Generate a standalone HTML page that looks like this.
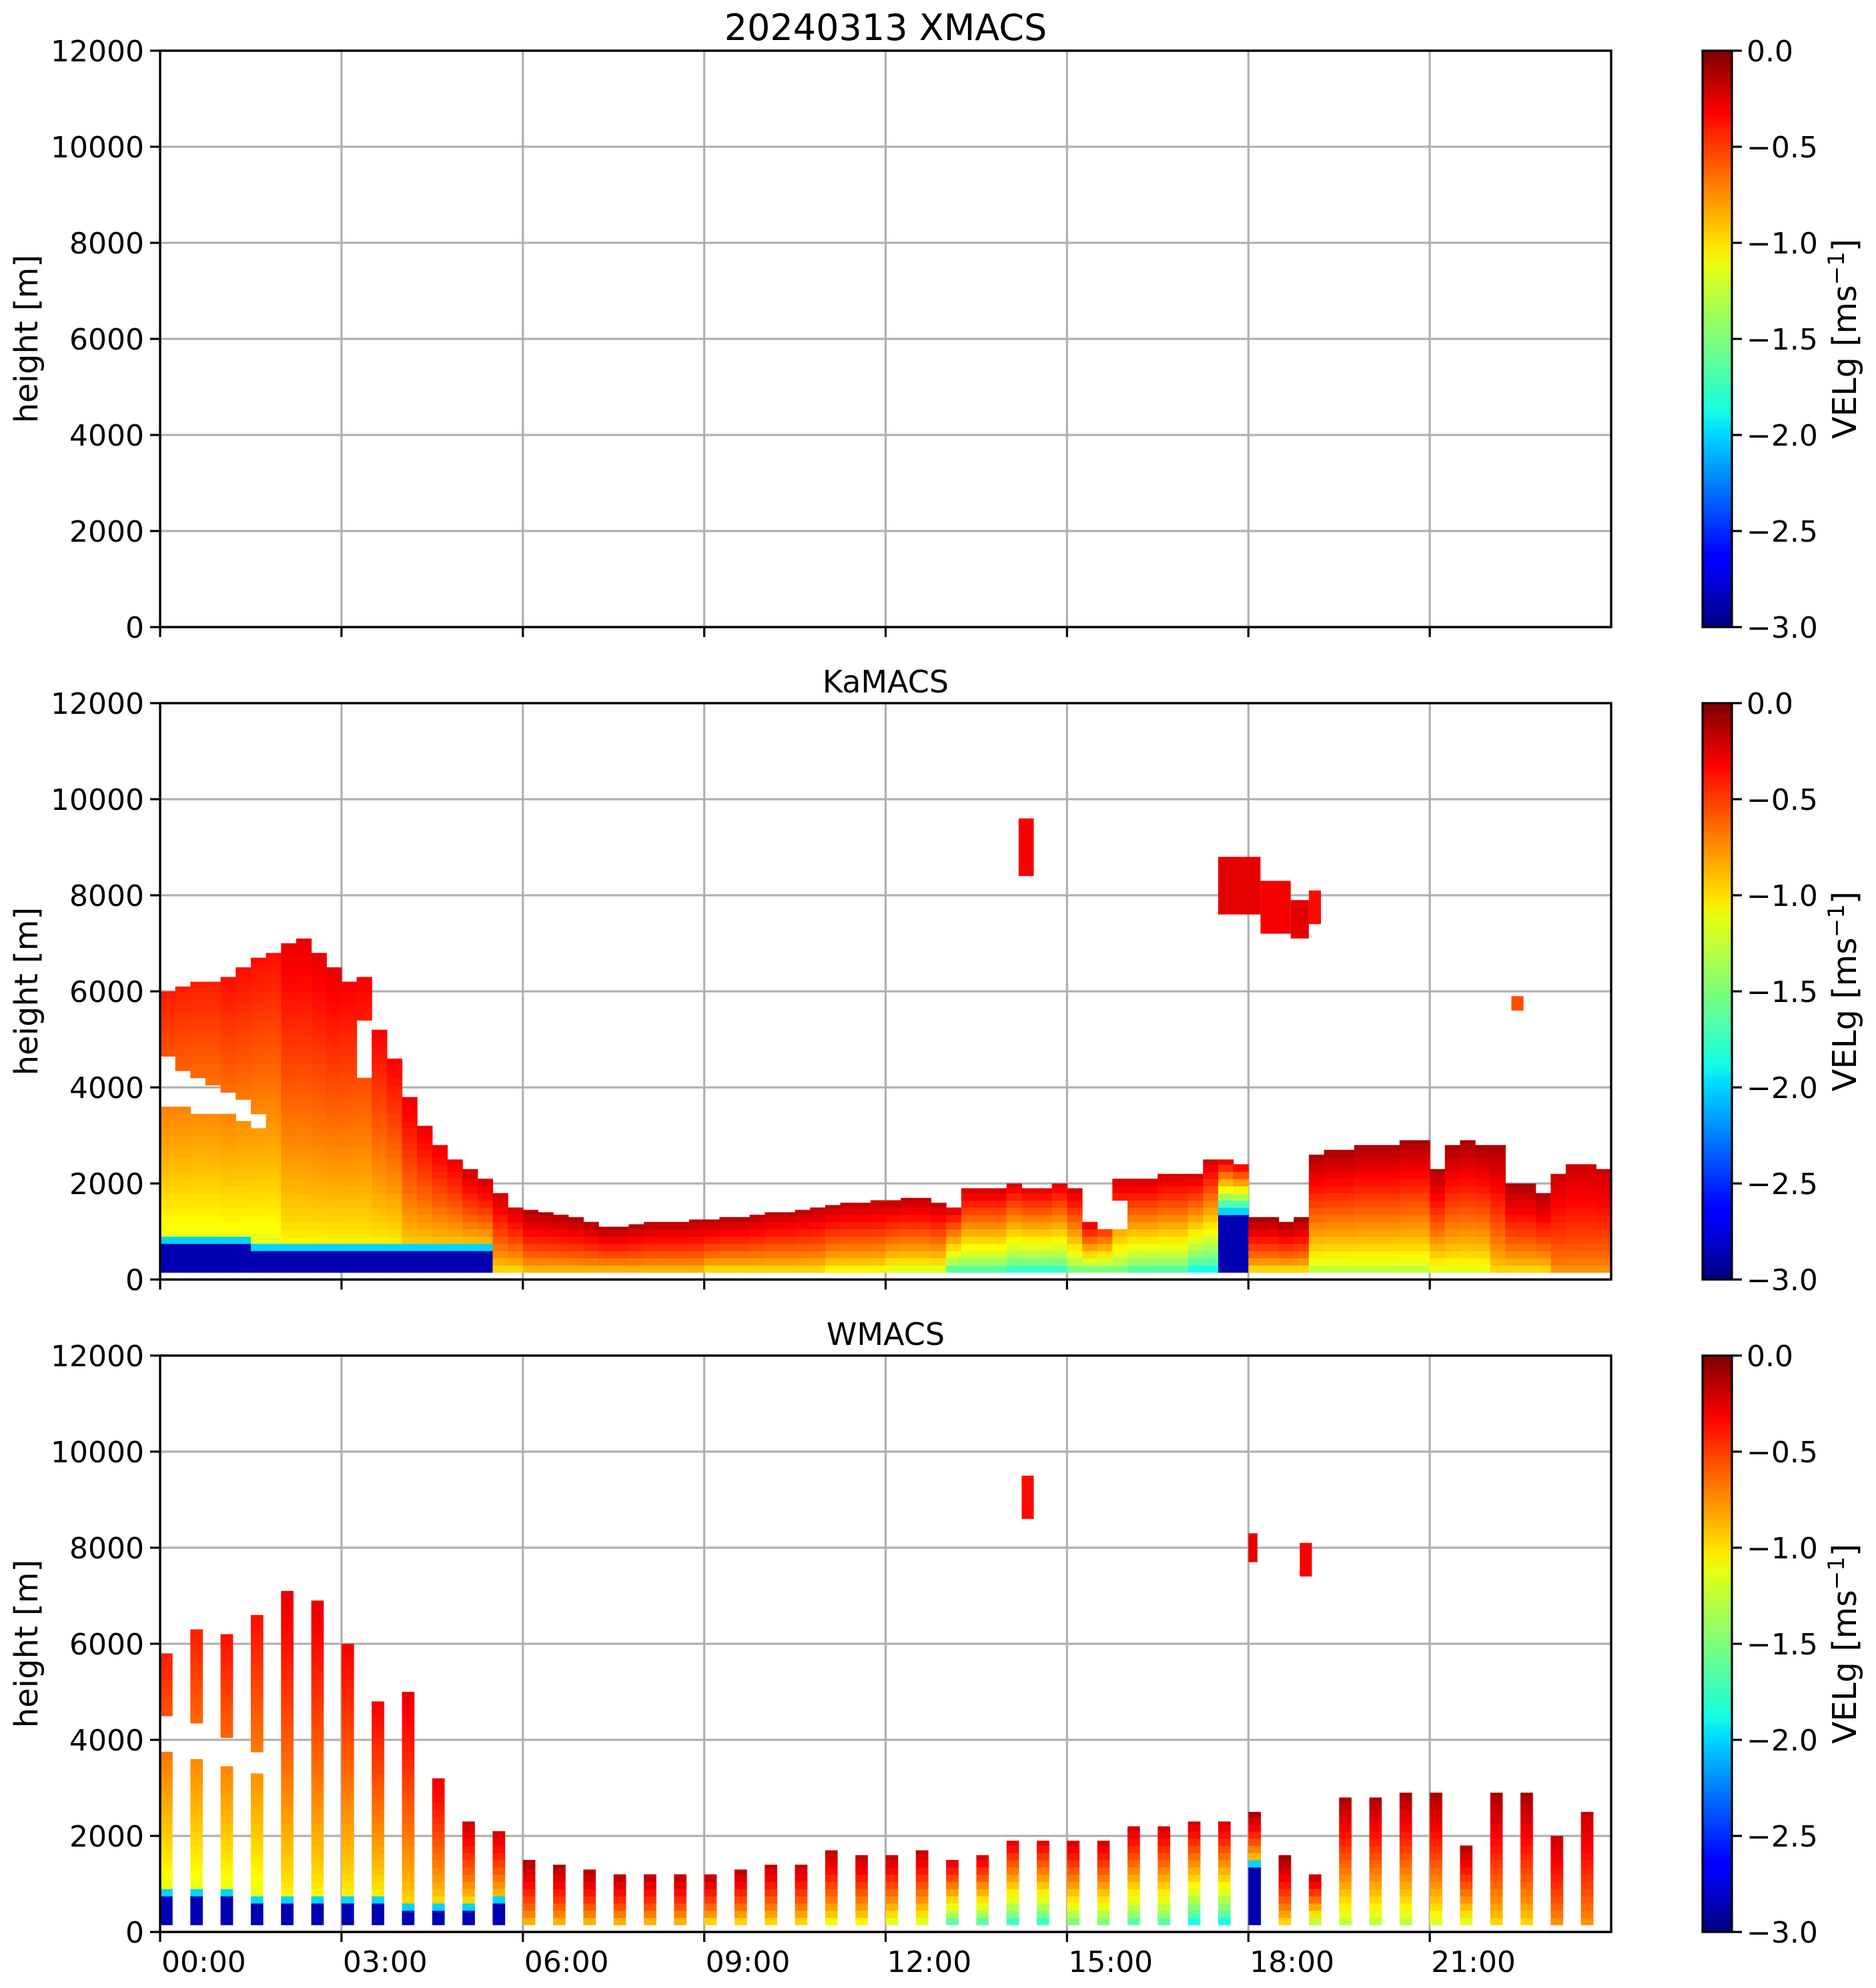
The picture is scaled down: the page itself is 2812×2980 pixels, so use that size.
<!DOCTYPE html>
<html><head><meta charset="utf-8"><title>20240313 XMACS VELg</title>
<style>html,body{margin:0;padding:0;background:#fff}svg{display:block;font-family:"DejaVu Sans","Liberation Sans",sans-serif}</style></head>
<body>
<svg id="fig" xmlns="http://www.w3.org/2000/svg" width="2812" height="2980" viewBox="0 0 2812 2980">
<rect width="2812" height="2980" fill="#fff"/>
<defs>
<linearGradient id="jet" x1="0" y1="1" x2="0" y2="0">
<stop offset="0" stop-color="#00007f"/><stop offset="0.11" stop-color="#0000ff"/><stop offset="0.125" stop-color="#0000ff"/>
<stop offset="0.34" stop-color="#00dcff"/><stop offset="0.375" stop-color="#16ffe1"/><stop offset="0.5" stop-color="#7dff7a"/>
<stop offset="0.625" stop-color="#e4ff13"/><stop offset="0.66" stop-color="#ffe600"/><stop offset="0.875" stop-color="#ff1300"/>
<stop offset="0.89" stop-color="#ff0000"/><stop offset="1" stop-color="#7f0000"/>
</linearGradient>
</defs>
<g id="layer"></g>
</svg>
<script>
// ---- data ----
const hourTicks = [0,3,6,9,12,15,18,21];
const hourLabels = ["00:00","03:00","06:00","09:00","12:00","15:00","18:00","21:00"];
const heightTicks = [0,2000,4000,6000,8000,10000,12000];
const cbarTicks = [0,-0.5,-1,-1.5,-2,-2.5,-3];
const panelTitles = ["20240313 XMACS","KaMACS","WMACS"];
// KaMACS cloud top per 15-min bin (m)
const kaTop = [6000,6100,6200,6200, 6300,6500,6700,6800, 7000,7100,6800,6500, 6200,6300,5200,4600,
 3800,3200,2800,2500, 2300,2100,1800,1500, 1450,1400,1350,1300, 1200,1100,1100,1150,
 1200,1200,1200,1250, 1250,1300,1300,1350, 1400,1400,1450,1500, 1550,1600,1600,1650,
 1650,1700,1700,1600, 1500,1900,1900,1900, 2000,1900,1900,2000, 1900,1200,1300,2100,
 2100,2100,2200,2200, 2200,2500,2500,2400, 1300,1300,1200,1300, 2600,2700,2700,2800,
 2800,2800,2900,2900, 2300,2800,2900,2800, 2800,2000,2000,1800, 2200,2400,2400,2300];
// rain (fast-falling) layer top per 15-min bin (m)
const kaRain = [650,650,650,650, 620,620,600,600, 600,600,580,580, 560,560,540,520,
 520,520,500,500, 500,500,0,0, 0,0,0,0, 0,0,0,0, 0,0,0,0, 0,0,0,0, 0,0,0,0, 0,0,0,0,
 0,0,0,0, 0,0,0,0, 0,0,0,0, 0,0,0,0, 0,0,0,0, 0,0,1300,1300, 0,0,0,0, 0,0,0,0,
 0,0,0,0, 0,0,0,0, 0,0,0,0, 0,0,0,0];
// hourly velocity near base and at top (m/s)
const vBotHourly = [-1.2,-1.2,-1.1,-1.1,-1.0,-1.0,-0.9,-0.9,-0.9,-1.0,-1.0,-1.1,-1.2,-1.6,-1.7,-1.5,-1.6,-1.8,-1.0,-1.3,-1.3,-1.2,-1.0,-0.8];
const vTopHourly = [-0.45,-0.4,-0.3,-0.35,-0.3,-0.2,-0.1,-0.1,-0.12,-0.12,-0.15,-0.15,-0.15,-0.2,-0.25,-0.2,-0.2,-0.2,-0.05,-0.1,-0.1,-0.1,-0.1,-0.2];
// gaps [startHour, endHour, lowM, highM]
const kaGaps = [[0,0.25,3600,4600],[0.25,0.5,3600,4400],[0.5,0.75,3500,4200],[0.75,1.0,3500,4000],[1.0,1.25,3400,3900],[1.25,1.5,3300,3800],[1.5,1.75,3200,3500],[3.25,3.5,4200,5400],[15.5,16.0,1000,1700]];
// upper patches [startHour, endHour, lowM, highM, vel]
const kaPatches = [[14.2,14.45,8400,9600,-0.35],[17.5,18.2,7600,8800,-0.3],[18.2,18.7,7200,8300,-0.35],[18.7,19.0,7100,7900,-0.3],[19.0,19.2,7400,8100,-0.4],[22.35,22.55,5600,5900,-0.6]];
// WMACS periodic scans: start hour per bar, top (m), rain top (m), gaps
const wStart = [0,0.5,1,1.5,2,2.5,3,3.5,4,4.5,5,5.5,6,6.5,7,7.5,8,8.5,9,9.5,10,10.5,11,11.5,12,12.5,13,13.5,14,14.5,15,15.5,16,16.5,17,17.5,18,18.5,19,19.5,20,20.5,21,21.5,22,22.5,23,23.5];
const wTop = [5800,6300,6200,6600,7100,6900,6000,4800,5000,3200,2300,2100,1500,1400,1300,1200,1200,1200,1200,1300,1400,1400,1700,1600,1600,1700,1500,1600,1900,1900,1900,1900,2200,2200,2300,2300,2500,1600,1200,2800,2800,2900,2900,1800,2900,2900,2000,2500];
const wRain = [700,700,650,600,600,600,550,500,450,450,450,500,0,0,0,0,0,0,0,0,0,0,0,0,0,0,0,0,0,0,0,0,0,0,0,0,1300,0,0,0,0,0,0,0,0,0,0,0];
const wGapLo = [3700,3650,3500,3300,0,0,0,0,0,0,0,0,0,0,0,0,0,0,0,0,0,0,0,0,0,0,0,0,0,0,0,0,0,0,0,0,0,0,0,0,0,0,0,0,0,0,0,0];
const wGapHi = [4500,4400,4000,3800,0,0,0,0,0,0,0,0,0,0,0,0,0,0,0,0,0,0,0,0,0,0,0,0,0,0,0,0,0,0,0,0,0,0,0,0,0,0,0,0,0,0,0,0];
const wPatches = [[14.25,14.45,8600,9500,-0.4],[18.0,18.15,7700,8300,-0.3],[18.85,19.05,7400,8100,-0.35]];

// ---- layout ----
const NS = "http://www.w3.org/2000/svg";
const L = 240, R = 2415, PH = 864, tops = [76,1054,2032];
const CBL = 2552, CBW = 44;
const xOf = h => L + (R - L) * h / 24;
const yOf = (m, p) => tops[p] + PH - PH * m / 12000;
const layer = document.getElementById("layer");
function el(tag, attrs, parent) {
  const e = document.createElementNS(NS, tag);
  for (const k in attrs) e.setAttribute(k, attrs[k]);
  (parent || layer).appendChild(e);
  return e;
}
function jet(v) {
  let x = Math.max(0, Math.min(1, (v + 3) / 3));
  const c = t => Math.round(255 * Math.max(0, Math.min(1, t)));
  return `rgb(${c(1.5 - Math.abs(4 * x - 3))},${c(1.5 - Math.abs(4 * x - 2))},${c(1.5 - Math.abs(4 * x - 1))})`;
}
function velAt(h, top, rain, vb, vt) {
  if (rain > 0 && h < rain) return -2.85;
  if (rain > 0 && h < rain + 150) return -2.0;
  const base = rain > 0 ? rain + 150 : 150;
  const f = Math.max(0, Math.min(1, (h - base) / Math.max(1, top - base)));
  return vb + (vt - vb) * Math.pow(f, 0.8);
}
const DH = 150;
function drawColumn(p, t0, t1, top, rain, vb, vt, gapFn, g) {
  for (let h = 150; h < top; h += DH) {
    const hh = Math.min(DH, top - h);
    if (gapFn(h + hh / 2)) continue;
    const r = el("rect", {x: xOf(t0).toFixed(2), y: yOf(h + hh, p).toFixed(2), width: (xOf(t1) - xOf(t0) + 0.6).toFixed(2), height: (PH * hh / 12000 + 0.6).toFixed(2), fill: jet(velAt(h, top, rain, vb, vt))}, g);
    
    
  }
}

// ---- panels ----
for (let p = 0; p < 3; p++) {
  const g = el("g", {});
  
  
  hourTicks.forEach(h => { if (h > 0) { const gl = el("line", {x1: xOf(h), x2: xOf(h), y1: tops[p], y2: tops[p] + PH, stroke: "#b0b0b0", "stroke-width": 3.2}, g);   } });
  heightTicks.forEach(m => { const gl = el("line", {x1: L, x2: R, y1: yOf(m, p), y2: yOf(m, p), stroke: "#b0b0b0", "stroke-width": 3.2}, g);   });
  const dg = el("g", {}, g);
  
  
  if (p === 1) {
    kaTop.forEach((top, i) => {
      const t0 = i * 0.25, t1 = t0 + 0.25, hr = Math.floor(t0);
      drawColumn(1, t0, t1, top, kaRain[i], vBotHourly[hr], vTopHourly[hr],
        h => kaGaps.some(gp => t0 >= gp[0] - 1e-6 && t1 <= gp[1] + 1e-6 && h > gp[2] && h < gp[3]), dg);
    });
    kaPatches.forEach(pt => { const r = el("rect", {x: xOf(pt[0]), y: yOf(pt[3], 1), width: xOf(pt[1]) - xOf(pt[0]), height: PH * (pt[3] - pt[2]) / 12000, fill: jet(pt[4])}, dg);   });
  }
  if (p === 2) {
    wStart.forEach((t0, i) => {
      const t1 = t0 + 0.2, hr = Math.floor(t0);
      drawColumn(2, t0, t1, wTop[i], wRain[i], vBotHourly[hr], vTopHourly[hr],
        h => wGapHi[i] > 0 && h > wGapLo[i] && h < wGapHi[i], dg);
    });
    wPatches.forEach(pt => { const r = el("rect", {x: xOf(pt[0]), y: yOf(pt[3], 2), width: xOf(pt[1]) - xOf(pt[0]), height: PH * (pt[3] - pt[2]) / 12000, fill: jet(pt[4])}, dg);   });
  }
  const fr = el("rect", {x: L, y: tops[p], width: R - L, height: PH, fill: "none", stroke: "#000", "stroke-width": 3.4}, g);
  
  
  heightTicks.forEach(m => {
    const tk = el("line", {x1: L - 15, x2: L, y1: yOf(m, p), y2: yOf(m, p), stroke: "#000", "stroke-width": 3.2}, g);
    
    
    const tx = el("text", {x: L - 24, y: yOf(m, p) + 16, "text-anchor": "end", "font-size": 44}, g);
    tx.textContent = String(m);
    
    
  });
  hourTicks.forEach((h, i) => {
    const tk = el("line", {x1: xOf(h), x2: xOf(h), y1: tops[p] + PH, y2: tops[p] + PH + 15, stroke: "#000", "stroke-width": 3.2}, g);
    
    
    if (p === 2) {
      const tx = el("text", {x: xOf(h) + 2, y: 2956, "font-size": 44}, g);
      tx.textContent = hourLabels[i];
      
      
    }
  });
  const yl = el("text", {x: 0, y: 0, "text-anchor": "middle", "font-size": 48, transform: `translate(56,${tops[p] + PH / 2}) rotate(-90)`}, g);
  yl.textContent = "height [m]";
  
  
  const tt = el("text", {x: (L + R) / 2, y: tops[p] - 16, "text-anchor": "middle", "font-size": p === 0 ? 54 : 46}, g);
  tt.textContent = panelTitles[p];
  
  
  const cb = el("g", {}, g);
  
  
  el("rect", {x: CBL, y: tops[p], width: CBW, height: PH, fill: "url(#jet)", stroke: "#000", "stroke-width": 3.2}, cb);
  cbarTicks.forEach(v => {
    const y = tops[p] + PH * (-v) / 3;
    const tk = el("line", {x1: CBL + CBW, x2: CBL + CBW + 15, y1: y, y2: y, stroke: "#000", "stroke-width": 3.2}, cb);
    
    
    const tx = el("text", {x: CBL + CBW + 22, y: y + 16, "font-size": 44}, cb);
    tx.textContent = (v < 0 ? "\u2212" : "") + Math.abs(v).toFixed(1);
    
    
  });
  const cl = el("text", {x: 0, y: 0, "text-anchor": "middle", "font-size": 49, transform: `translate(2782,${tops[p] + PH / 2}) rotate(-90)`}, cb);
  cl.innerHTML = 'VELg [ms<tspan dy="-18" font-size="34">\u22121</tspan><tspan dy="18">]</tspan>';
  
  
}
</script>
</body></html>
